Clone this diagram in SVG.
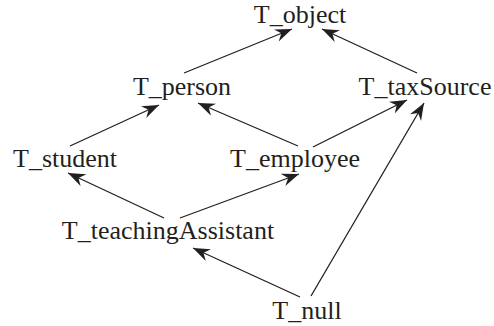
<svg xmlns="http://www.w3.org/2000/svg" width="494" height="326" viewBox="0 0 494 326">
<style>
text { font-family: "Liberation Serif", "Times New Roman", serif; font-size: 26px; fill: #231f20; text-anchor: middle; }
.e { stroke: #231f20; stroke-width: 1.3; fill: none; marker-end: url(#ah); }
</style>
<defs>
<marker id="ah" markerUnits="userSpaceOnUse" viewBox="-17 -7 18 14" refX="0" refY="0" markerWidth="18" markerHeight="14" orient="auto">
<path d="M0,0 L-17,-6.5 L-11.5,0 L-17,6.5 Z" fill="#231f20"/>
</marker>
</defs>
<rect width="494" height="326" fill="#ffffff"/>
<g id="edges">
<line class="e" x1="184" y1="73" x2="292" y2="29"/>
<line class="e" x1="417" y1="73" x2="322" y2="29"/>
<line class="e" x1="70" y1="146" x2="159" y2="105"/>
<line class="e" x1="298" y1="146" x2="198" y2="103"/>
<line class="e" x1="313" y1="147" x2="407" y2="100"/>
<line class="e" x1="311" y1="296" x2="424" y2="103"/>
<line class="e" x1="164" y1="218" x2="68" y2="173"/>
<line class="e" x1="180" y1="218" x2="299" y2="174"/>
<line class="e" x1="300" y1="297" x2="193" y2="248"/>
</g>
<g id="T_object"><text x="300" y="23">T_object</text></g>
<g id="T_person"><text x="182" y="95">T_person</text></g>
<g id="T_taxSource"><text x="425" y="95">T_taxSource</text></g>
<g id="T_student"><text x="65" y="167">T_student</text></g>
<g id="T_employee"><text x="295" y="167">T_employee</text></g>
<g id="T_teachingAssistant"><text x="168" y="239">T_teachingAssistant</text></g>
<g id="T_null"><text x="307" y="319">T_null</text></g>
</svg>
